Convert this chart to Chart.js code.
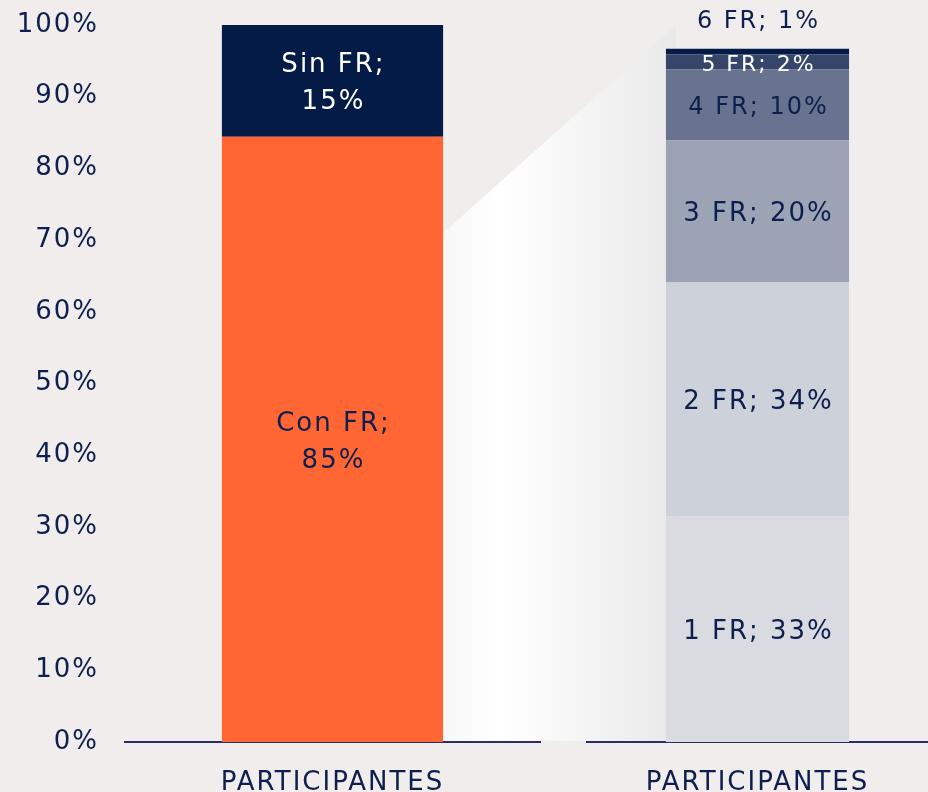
<!DOCTYPE html>
<html>
<head>
<meta charset="utf-8">
<script src="https://cdn.jsdelivr.net/npm/chart.js@4.4.1/dist/chart.umd.min.js"></script>
<style>
  html, body { margin: 0; padding: 0; background: #f0edec; }
  #wrap { position: relative; width: 928px; height: 792px; }
  #left { position: absolute; left: 0; top: 0; }
  #right { position: absolute; left: 560px; top: 0; }
</style>
</head>
<body>
<div id="wrap">
  <canvas id="left" width="928" height="792"></canvas>
  <canvas id="right" width="368" height="792"></canvas>
</div>
<script>
const categories = ['PARTICIPANTES'];

// left bar: with / without risk factors
const leftSeries = ['Con FR', 'Sin FR'];
const leftValues = [84.4, 15.6];
const leftShown = [85, 15];

// right bar: breakdown by number of risk factors
const rightSeries = ['1 FR', '2 FR', '3 FR', '4 FR', '5 FR', '6 FR'];
const rightValues = [31.5, 32.6, 19.8, 9.9, 2.1, 0.8];
const rightShown = [33, 34, 20, 10, 2, 1];

const navy = '#0c1f4e';
const font = 'DejaVu Sans';
const leftColors = ['#ff6633', '#041a47'];
const leftText = [navy, '#ffffff'];
const rightColors = ['#d9dbe0', '#cdd1da', '#9ca3b5', '#68738f', '#36466a', '#041a47'];
const rightText = [navy, navy, navy, navy, '#ffffff', navy];
const rightSize = [26, 26, 26, 24, 22, 24];

// text spacing a bit wider, like the original typeface
const spacing = {
  id: 'spacing',
  beforeDraw(chart) { chart.ctx.letterSpacing = '2px'; }
};

const barText = {
  id: 'barText',
  afterDatasetsDraw(chart) {
    const ctx = chart.ctx;
    ctx.save();
    ctx.letterSpacing = '2px';
    ctx.textAlign = 'center';
    ctx.textBaseline = 'middle';
    chart.data.datasets.forEach((ds, i) => {
      const el = chart.getDatasetMeta(i).data[0];
      const lines = ds.textLines;
      ctx.font = ds.textSize + 'px "' + font + '"';
      ctx.fillStyle = ds.textColor;
      let cy = (el.y + el.base) / 2 + 3;
      if (el.base - el.y < 10) cy = el.y - 27;   // too thin: label above the bar
      const lh = 37;
      lines.forEach((t, k) => {
        ctx.fillText(t, el.x + 1, cy + (k - (lines.length - 1) / 2) * lh);
      });
    });
    ctx.restore();
  }
};

const xAxis = (pad) => ({
  stacked: true,
  grid: { display: false },
  border: { display: true, color: '#2b2d6b', width: 2 },
  ticks: { color: navy, font: { family: font, size: 26 }, padding: pad },
  afterFit(s) { s.height = 50; }
});

const rightChart = new Chart(document.getElementById('right'), {
  type: 'bar',
  data: {
    labels: categories,
    datasets: rightSeries.map((name, i) => ({
      label: name,
      data: [rightValues[i]],
      backgroundColor: rightColors[i],
      barPercentage: 0.537,
      categoryPercentage: 1,
      textLines: [name + '; ' + rightShown[i] + '%'],
      textColor: rightText[i],
      textSize: rightSize[i]
    }))
  },
  options: {
    responsive: false,
    animation: false,
    layout: { padding: { top: 25, left: 27, right: 0, bottom: 0 } },
    plugins: { legend: { display: false }, tooltip: { enabled: false } },
    scales: {
      x: xAxis(18),
      y: { stacked: true, min: 0, max: 100, display: false }
    }
  },
  plugins: [spacing, barText]
});

// light wedge linking the two bars
const wedge = {
  id: 'wedge',
  beforeDatasetsDraw(chart) {
    const ctx = chart.ctx;
    const y = chart.scales.y;
    const bar = chart.getDatasetMeta(0).data[0];
    const rb = rightChart.getDatasetMeta(0).data[0];
    const x0 = bar.x + bar.width / 2;
    const x1 = rightChart.canvas.offsetLeft + rb.x - rb.width / 2 + 10;
    const g = ctx.createLinearGradient(x0, 0, x1, 0);
    g.addColorStop(0, '#f7f7f7');
    g.addColorStop(0.25, '#ffffff');
    g.addColorStop(1, '#e9e9ea');
    ctx.save();
    ctx.fillStyle = g;
    ctx.beginPath();
    ctx.moveTo(x0, y.getPixelForValue(71));
    ctx.lineTo(x1, y.getPixelForValue(100));
    ctx.lineTo(x1, y.getPixelForValue(0) - 1);
    ctx.lineTo(x0, y.getPixelForValue(0) - 1);
    ctx.closePath();
    ctx.fill();
    ctx.restore();
  }
};

const leftChart = new Chart(document.getElementById('left'), {
  type: 'bar',
  data: {
    labels: categories,
    datasets: leftSeries.map((name, i) => ({
      label: name,
      data: [leftValues[i]],
      backgroundColor: leftColors[i],
      barPercentage: 0.533,
      categoryPercentage: 1,
      textLines: [name + ';', leftShown[i] + '%'],
      textColor: leftText[i],
      textSize: 26
    }))
  },
  options: {
    responsive: false,
    animation: false,
    layout: { padding: { top: 25, left: 0, right: 388, bottom: 0 } },
    plugins: { legend: { display: false }, tooltip: { enabled: false } },
    scales: {
      x: xAxis(18),
      y: {
        stacked: true,
        min: 0,
        max: 100,
        grid: { display: false },
        border: { display: false },
        ticks: {
          stepSize: 10,
          color: navy,
          font: { family: font, size: 26 },
          padding: 18,
          callback: v => v + '%'
        },
        afterFit(s) {
          s.width = 125;
          s.paddingTop = 0;
          s.paddingBottom = 0;
        }
      }
    }
  },
  plugins: [spacing, wedge, barText]
});
</script>
</body>
</html>
